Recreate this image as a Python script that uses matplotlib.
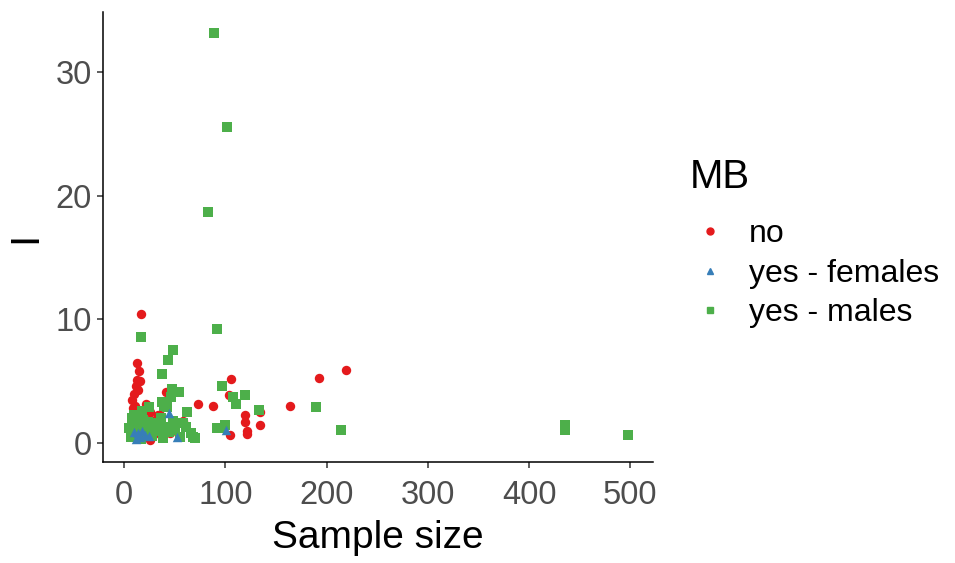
import matplotlib
matplotlib.use("Agg")
import matplotlib.pyplot as plt
from matplotlib.lines import Line2D

plt.rcParams['font.family'] = ['Liberation Sans', 'DejaVu Sans']

# "no" (red circles)
no_x = [8, 9, 10, 11, 12, 13, 13, 15, 14, 16, 12, 18, 20, 22, 24, 26, 26, 27, 28, 30,
        33, 35, 41, 44, 45, 58, 67, 73, 88, 104, 105, 106, 119, 119, 121, 121, 134, 134,
        164, 193, 219, 16.5]
no_y = [3.5, 2.8, 4.0, 3.0, 4.6, 5.1, 6.5, 5.8, 4.3, 5.0, 2.2, 1.5, 2.0, 3.2, 1.0, 2.5,
        0.25, 1.9, 1.4, 0.7, 2.3, 2.3, 4.1, 1.2, 0.8, 1.8, 0.55, 3.2, 3.0, 3.9, 0.65, 5.2,
        2.3, 1.7, 1.0, 0.7, 2.5, 1.45, 3.0, 5.3, 5.9, 10.4]

# "yes - females" (blue triangles)
fem_x = [14, 21, 16, 12, 18, 44, 52, 101, 10, 25]
fem_y = [0.8, 0.65, 0.5, 0.3, 1.0, 2.4, 0.5, 1.1, 0.9, 0.6]

# "yes - males" (green squares)
mal_x = [5, 7, 8, 9, 10, 10, 12, 13, 14, 15, 16, 17, 18, 19, 20, 22, 24, 25, 27, 28,
         30, 32, 34, 36, 38, 40, 42, 44, 48, 50, 55, 58, 61, 66, 68, 70,
         89, 102, 83, 92, 17, 48, 43, 37, 97, 47, 54, 108, 119, 111, 133, 62, 190, 214,
         436, 436, 498, 95, 100, 46, 37, 39, 92]
mal_y = [1.2, 0.5, 2.0, 1.5, 2.3, 0.8, 1.6, 1.8, 1.3, 1.0, 2.2, 0.3, 2.6, 1.9, 1.5, 0.8,
         1.7, 2.9, 1.2, 0.6, 1.4, 1.6, 1.0, 2.0, 0.4, 1.3, 2.9, 0.9, 1.8, 1.1, 0.5, 1.6,
         1.3, 0.8, 0.5, 0.4,
         33.1, 25.5, 18.7, 9.2, 8.6, 7.5, 6.7, 5.6, 4.6, 4.4, 4.1, 3.7, 3.9, 3.2, 2.7, 2.5,
         2.9, 1.1, 1.5, 1.05, 0.65, 1.2, 1.45, 3.7, 3.3, 3.0, 1.2]

x_ticks = [0, 100, 200, 300, 400, 500]
y_ticks = [0, 10, 20, 30]

red, blue, green = '#E41A1C', '#377EB8', '#4DAF4A'

fig = plt.figure(figsize=(9.55, 5.63), dpi=100)
ax = fig.add_axes([0.108, 0.179, 0.576, 0.800])

ms = 46
ax.scatter(no_x, no_y, s=ms, marker='o', color=red, linewidths=0, zorder=2)
ax.scatter(mal_x, mal_y, s=ms, marker='s', color=green, linewidths=0, zorder=3)
ax.scatter(fem_x, fem_y, s=ms, marker='^', color=blue, linewidths=0, zorder=4)

ax.set_xlim(-20.7, 522.7)
ax.set_ylim(-1.54, 34.84)
ax.set_xticks(x_ticks)
ax.set_yticks(y_ticks)
for s in ['top', 'right']:
    ax.spines[s].set_visible(False)
for s in ['left', 'bottom']:
    ax.spines[s].set_linewidth(1.1)
    ax.spines[s].set_color('black')
ax.tick_params(axis='both', length=4, width=1.1, color='#333333',
               labelsize=23.5, labelcolor='#4D4D4D')
ax.tick_params(axis='x', pad=9)
ax.tick_params(axis='y', pad=4)
ax.set_xlabel('Sample size', fontsize=28, color='black', labelpad=6)
ax.set_ylabel('I', fontsize=29, color='black', labelpad=8)

handles = [
    Line2D([], [], marker='o', linestyle='', color=red, markersize=5),
    Line2D([], [], marker='^', linestyle='', color=blue, markersize=5),
    Line2D([], [], marker='s', linestyle='', color=green, markersize=5),
]
leg = fig.legend(handles, ['no', 'yes - females', 'yes - males'], title='MB',
                 loc='upper left', bbox_to_anchor=(0.722, 0.72), frameon=False,
                 fontsize=23, title_fontsize=29, handlelength=1.3, handletextpad=0.55,
                 labelspacing=0.3, alignment='left', borderaxespad=0,
                 borderpad=0)
leg._legend_box.sep = 17

fig.savefig('out.png', dpi=100)
